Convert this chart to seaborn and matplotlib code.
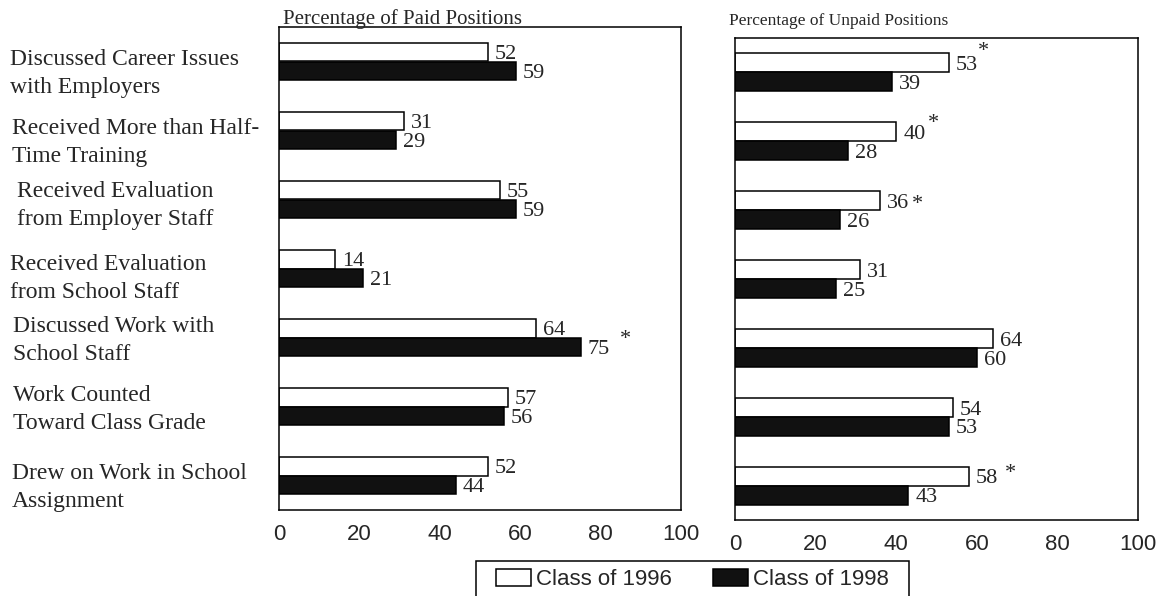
import numpy as np
import pandas as pd
import matplotlib
matplotlib.use("Agg")
import matplotlib.pyplot as plt
import seaborn as sns
from matplotlib.patches import Patch, Rectangle

# ---------------- data ----------------
categories = [
    "Discussed Career Issues\nwith Employers",
    "Received More than Half-\nTime Training",
    "Received Evaluation\nfrom Employer Staff",
    "Received Evaluation\nfrom School Staff",
    "Discussed Work with\nSchool Staff",
    "Work Counted\nToward Class Grade",
    "Drew on Work in School\nAssignment",
]
series_names = ["Class of 1996", "Class of 1998"]
paid_1996 = [52, 31, 55, 14, 64, 57, 52]
paid_1998 = [59, 29, 59, 21, 75, 56, 44]
unpaid_1996 = [53, 40, 36, 31, 64, 54, 58]
unpaid_1998 = [39, 28, 26, 25, 60, 53, 43]
paid_starred_1998 = [4]
unpaid_starred_1996 = [0, 1, 2, 6]
x_ticks = [0, 20, 40, 60, 80, 100]
panel_titles = ["Percentage of Paid Positions", "Percentage of Unpaid Positions"]

# ---------------- style ----------------
sns.set_style("white")
SERIF = ["Liberation Serif", "DejaVu Serif"]
SANS = ["Liberation Sans", "DejaVu Sans"]
plt.rcParams["font.family"] = SERIF

W, H = 1163, 596
fig = plt.figure(figsize=(W / 100, H / 100), dpi=100)
ax1 = fig.add_axes([279 / W, (H - 510) / H, (681 - 279) / W, (510 - 27) / H])
ax2 = fig.add_axes([735 / W, (H - 520) / H, (1138 - 735) / W, (520 - 38) / H])

palette = ["white", "#111111"]


def make_df(v96, v98):
    rows = []
    for i, c in enumerate(categories):
        rows.append({"category": c, "series": series_names[0], "value": v96[i]})
        rows.append({"category": c, "series": series_names[1], "value": v98[i]})
    return pd.DataFrame(rows)


# star placement styles: (dx px from label right, dy px up from label centre)
star_style_paid = {4: (10, 10)}
star_style_unpaid = {0: (0, 14), 1: (3, 11), 2: (3, -1), 6: (7, 5)}

panels = [
    (ax1, make_df(paid_1996, paid_1998), {1: paid_starred_1998}, star_style_paid),
    (ax2, make_df(unpaid_1996, unpaid_1998), {0: unpaid_starred_1996}, star_style_unpaid),
]

for ax, df, starred, star_style in panels:
    sns.barplot(
        data=df, x="value", y="category", hue="series",
        order=categories, hue_order=series_names, palette=palette,
        edgecolor="black", linewidth=1.1, width=0.55, orient="h",
        errorbar=None, legend=False, ax=ax,
    )
    ax.set_xlim(0, 100)
    ax.set_ylim(len(categories) - 0.5, -0.5)
    ax.set_xticks(x_ticks)
    ax.set_xticklabels([str(t) for t in x_ticks], fontsize=16, family=SANS)
    ax.tick_params(axis="x", length=0, pad=10)
    ax.tick_params(axis="y", length=0, labelleft=False)
    ax.set_xlabel("")
    ax.set_ylabel("")
    for s in ax.spines.values():
        s.set_visible(True)
        s.set_color("black")
        s.set_linewidth(1.1)

    for k, cont in enumerate(ax.containers):
        texts = ax.bar_label(cont, labels=[f"{int(v)}" for v in cont.datavalues],
                             padding=5, fontsize=16, family=SERIF)
        for t in texts:
            t.xyann = (t.xyann[0], -2)
        for idx in starred.get(k, []):
            dx, dy = star_style[idx]
            ax.annotate("*", xy=(1, 0.5), xycoords=texts[idx],
                        xytext=(dx, dy), textcoords="offset pixels",
                        ha="left", va="center", fontsize=16, family=SERIF)

ax1.annotate(panel_titles[0], xy=(0, 1), xycoords="axes fraction", xytext=(4, 3),
             textcoords="offset pixels", ha="left", va="baseline", fontsize=15, family=SERIF)
ax2.annotate(panel_titles[1], xy=(0, 1), xycoords="axes fraction", xytext=(-6, 13),
             textcoords="offset pixels", ha="left", va="baseline", fontsize=12.5, family=SERIF)

# category labels (left of first panel)
label_dx = [-269, -267, -262, -269, -266, -266, -267]
label_dy = [12, 12, 6, 10, 3, 3, 12]
for i, lab in enumerate(categories):
    ax1.annotate(lab, xy=(0, i), xycoords=("axes fraction", "data"),
                 xytext=(label_dx[i], -label_dy[i]), textcoords="offset pixels",
                 ha="left", va="center", fontsize=17, family=SERIF, linespacing=1.38)

# legend
handles = [Patch(facecolor=palette[0], edgecolor="black", linewidth=1.1),
           Patch(facecolor=palette[1], edgecolor="black", linewidth=1.1)]
leg = fig.legend(handles, series_names, loc="upper center",
                 bbox_to_anchor=(692.5 / W, 1 - 569 / H), ncol=2, frameon=False,
                 borderpad=0, borderaxespad=0, handlelength=1.55, handleheight=0.8,
                 handletextpad=0.25, columnspacing=1.85,
                 prop={"family": SANS, "size": 16})
fig.canvas.draw()
bb = leg.get_window_extent().transformed(fig.transFigure.inverted())
padx, pad_top, pad_bottom = 20 / W, 8 / H, 8 / H
fig.add_artist(Rectangle((bb.x0 - padx, bb.y0 - pad_bottom), bb.width + 2 * padx,
                         bb.height + pad_top + pad_bottom, transform=fig.transFigure,
                         facecolor="none", edgecolor="black", linewidth=1.1))

fig.savefig("out.png", dpi=100)
